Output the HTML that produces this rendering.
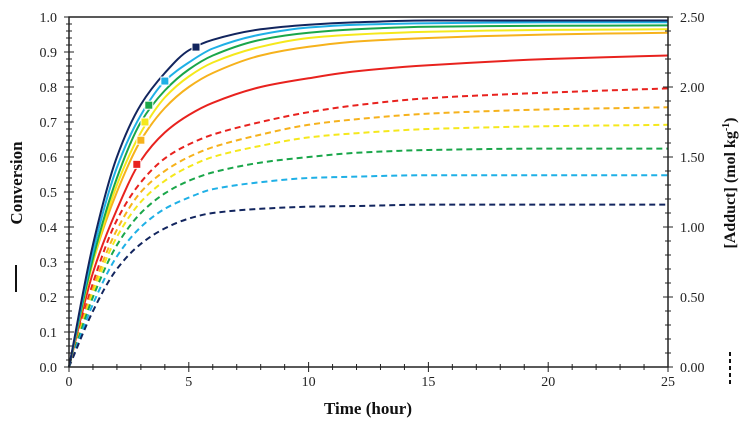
<!DOCTYPE html>
<html><head><meta charset="utf-8"><style>
html,body{margin:0;padding:0;background:#fff;}
svg{display:block;font-family:"Liberation Serif",serif;}
</style></head><body>
<svg id="chart" width="746" height="425" viewBox="0 0 746 425" xmlns="http://www.w3.org/2000/svg"></svg>
<script>
const times = [0,1,2,3,4,5,6,8,10,12,15,20,25];
const seriesColors = ['#12255e','#1fb0e6','#1aa64a','#f5e81c','#f6b21c','#e8221e'];
const seriesNames = ['navy','blue','green','yellow','orange','red'];
const convNavy   = [0,0.35,0.60,0.75,0.84,0.905,0.935,0.965,0.978,0.985,0.99,0.99,0.99];
const convBlue   = [0,0.33,0.57,0.72,0.817,0.87,0.91,0.95,0.97,0.978,0.982,0.985,0.985];
const convGreen  = [0,0.31,0.54,0.70,0.79,0.85,0.89,0.935,0.955,0.965,0.972,0.975,0.976];
const convYellow = [0,0.30,0.52,0.67,0.77,0.83,0.87,0.915,0.94,0.95,0.958,0.963,0.965];
const convOrange = [0,0.30,0.50,0.648,0.74,0.80,0.84,0.89,0.915,0.93,0.94,0.95,0.955];
const convRed    = [0,0.27,0.45,0.59,0.67,0.72,0.755,0.80,0.825,0.845,0.862,0.88,0.89];
const addNavy   = [0,0.40,0.70,0.88,0.99,1.06,1.10,1.13,1.145,1.15,1.16,1.16,1.16];
const addBlue   = [0,0.45,0.79,1.00,1.13,1.21,1.27,1.32,1.35,1.36,1.37,1.37,1.37];
const addGreen  = [0,0.50,0.87,1.10,1.24,1.33,1.39,1.46,1.50,1.53,1.55,1.56,1.56];
const addYellow = [0,0.53,0.93,1.18,1.33,1.43,1.50,1.58,1.64,1.67,1.70,1.72,1.73];
const addOrange = [0,0.56,0.98,1.25,1.40,1.50,1.57,1.66,1.73,1.77,1.81,1.84,1.855];
const addRed    = [0,0.60,1.05,1.32,1.49,1.59,1.66,1.75,1.82,1.87,1.92,1.96,1.99];
const markerT = [5.3,4.0,3.33,3.17,3.0,2.83];
const markerV = [0.914,0.817,0.748,0.70,0.648,0.579];
const xTicks = [0,5,10,15,20,25];
const yTicks = [0,0.1,0.2,0.3,0.4,0.5,0.6,0.7,0.8,0.9,1.0];
const y2Ticks = [0,0.5,1.0,1.5,2.0,2.5];

const NS='http://www.w3.org/2000/svg';
const svg=document.getElementById('chart');
const X0=69,X1=668,Y0=367,Y1=17;
const xs=t=>X0+(X1-X0)*t/25;
const ys=v=>Y0-(Y0-Y1)*v;
const ys2=v=>Y0-(Y0-Y1)*v/2.5;
function el(tag,attrs,parent){const e=document.createElementNS(NS,tag);for(const k in attrs)e.setAttribute(k,attrs[k]);(parent||svg).appendChild(e);return e;}
function path(px,py){
  const n=px.length,d=[],m=[];
  for(let i=0;i<n-1;i++)d.push((py[i+1]-py[i])/(px[i+1]-px[i]));
  m[0]=d[0];m[n-1]=d[n-2];
  for(let i=1;i<n-1;i++)m[i]=(d[i-1]*d[i]<=0)?0:2/(1/d[i-1]+1/d[i]);
  let s='M'+px[0].toFixed(1)+','+py[0].toFixed(1);
  for(let i=0;i<n-1;i++){const h=(px[i+1]-px[i])/3;
    s+=' C'+(px[i]+h).toFixed(1)+','+(py[i]+m[i]*h).toFixed(1)+' '+(px[i+1]-h).toFixed(1)+','+(py[i+1]-m[i+1]*h).toFixed(1)+' '+px[i+1].toFixed(1)+','+py[i+1].toFixed(1);}
  return s;}
const conv=[convNavy,convBlue,convGreen,convYellow,convOrange,convRed];
const add=[addNavy,addBlue,addGreen,addYellow,addOrange,addRed];
const px=times.map(xs);
for(let i=add.length-1;i>=0;i--){
  const p=el('path',{d:path(px,add[i].map(ys2)),fill:'none',stroke:seriesColors[i],'stroke-width':2,'stroke-dasharray':'6,4'});
  
  
}
for(let i=conv.length-1;i>=0;i--){
  const p=el('path',{d:path(px,conv[i].map(ys)),fill:'none',stroke:seriesColors[i],'stroke-width':2});
  
  
}
for(let i=0;i<markerT.length;i++){
  const r=el('rect',{x:xs(markerT[i])-3.5,y:ys(markerV[i])-3.5,width:7,height:7,fill:seriesColors[i],stroke:'#fff','stroke-width':2,'paint-order':'stroke'});
  
  
}
const fr=el('rect',{x:X0,y:Y1,width:X1-X0,height:Y0-Y1,fill:'none',stroke:'#222','stroke-width':1.5});

for(let v=0;v<=1.0001;v+=0.02){const big=Math.abs(v*10-Math.round(v*10))<0.01;
  el('line',{x1:X0-(big?5:3),x2:X0+(big?5:3),y1:ys(v),y2:ys(v),stroke:'#222','stroke-width':1});}
for(let v=0;v<=2.5001;v+=0.1){const big=Math.abs(v*2-Math.round(v*2))<0.01;
  el('line',{x1:X1-(big?5:3),x2:X1+(big?5:3),y1:ys2(v),y2:ys2(v),stroke:'#222','stroke-width':1});}
for(let t=0;t<=25;t+=1){const big=t%5===0;
  el('line',{x1:xs(t),x2:xs(t),y1:Y0-(big?5:3),y2:Y0+(big?5:3),stroke:'#222','stroke-width':1});}
yTicks.forEach(v=>{const t=el('text',{x:X0-12,y:ys(v)+5,'text-anchor':'end','font-size':14,fill:'#222'});t.textContent=v.toFixed(1);
  });
y2Ticks.forEach(v=>{const t=el('text',{x:X1+12,y:ys2(v)+5,'text-anchor':'start','font-size':14,fill:'#222'});t.textContent=v.toFixed(2);
  });
xTicks.forEach(v=>{const t=el('text',{x:xs(v),y:Y0+19,'text-anchor':'middle','font-size':14,fill:'#222'});t.textContent=v;
  });
</script>
<svg style="position:absolute;left:0;top:0" width="746" height="425">
<text x="368" y="414" text-anchor="middle" font-family="Liberation Serif" font-weight="bold" font-size="17" fill="#111">Time (hour)</text>
<text transform="translate(22,183) rotate(-90)" text-anchor="middle" font-family="Liberation Serif" font-weight="bold" font-size="17" fill="#111">Conversion</text>
<line x1="16" y1="265" x2="16" y2="292" stroke="#111" stroke-width="2"/>
<text transform="translate(735,183) rotate(-90)" text-anchor="middle" font-family="Liberation Serif" font-weight="bold" font-size="16" fill="#111">[Adduct] (mol kg<tspan dy="-6" font-size="10">-1</tspan><tspan dy="6">)</tspan></text>
<line x1="730" y1="352" x2="730" y2="384" stroke="#111" stroke-width="2" stroke-dasharray="4,3"/>
</svg>
</body></html>
